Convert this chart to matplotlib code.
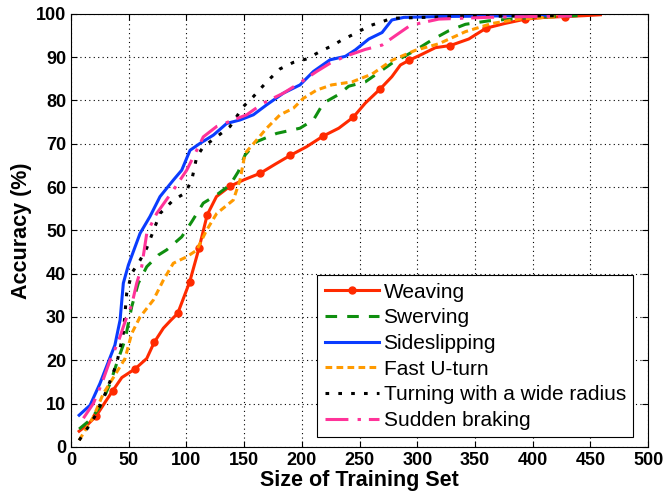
import matplotlib
matplotlib.use("Agg")
import matplotlib.pyplot as plt

plt.rcParams['font.family'] = ['Liberation Sans', 'DejaVu Sans']

weaving_x = [7, 15, 22, 30, 36, 44, 55.5, 65.6, 72, 80, 86.7, 92.4, 102.8, 111, 118, 126, 137.8, 150, 164, 177, 189.8, 204, 218.6, 232, 244.4, 255, 268, 278, 285.4, 293, 302.7, 315.7, 328.7, 344.6, 359.6, 376, 393.7, 410, 428.3, 445, 458.7]
weaving_y = [3.6, 5.3, 7.2, 10.5, 12.9, 16.0, 18.0, 20.4, 24.1, 27.4, 29.3, 30.8, 38.1, 46.0, 53.6, 57.8, 60.2, 61.7, 63.2, 65.3, 67.3, 69.3, 71.8, 73.6, 76.1, 79.4, 82.7, 85.5, 88.2, 89.3, 90.5, 92.2, 92.7, 94.2, 96.7, 97.8, 98.8, 99.2, 99.4, 99.6, 99.8]
weaving_markers = [2, 4, 6, 8, 11, 12, 13, 14, 16, 18, 20, 22, 24, 26, 29, 32, 34, 36, 38]

swerving_x = [7, 16.5, 25, 33.8, 39.6, 46.8, 52.6, 58.3, 65.6, 75.7, 82.9, 95.9, 104.6, 114.6, 126.2, 137.8, 145, 150.8, 160.9, 178.2, 198.4, 210, 218.7, 232, 240.6, 255, 278, 298.4, 312.8, 327.2, 341.7, 361.9, 400, 440]
swerving_y = [4.1, 6.2, 9.2, 14.6, 19.3, 24.7, 32.4, 37.8, 41.6, 44.3, 45.5, 48.5, 52.0, 56.3, 58.2, 60.5, 63.6, 67.4, 70.5, 72.4, 73.6, 75.5, 79.4, 81.4, 83.3, 84.3, 88.6, 91.6, 94.0, 96.1, 97.6, 98.4, 99.2, 99.6]

sideslip_x = [7, 16.5, 25, 32.3, 38, 42.5, 45.3, 49.7, 55.5, 59.8, 68.4, 77.1, 88.6, 95.9, 103.1, 111.8, 123.3, 134.9, 146.4, 158, 169.5, 184, 198.4, 210, 224.4, 237.7, 246.4, 258, 269.5, 278, 288.3, 320, 360, 411]
sideslip_y = [7.3, 9.6, 14.6, 19.6, 23.5, 29.3, 37.8, 42.0, 46.2, 49.3, 53.2, 57.8, 61.6, 63.9, 68.5, 70.1, 72.0, 74.7, 75.5, 76.7, 79.0, 81.7, 83.6, 86.7, 89.4, 90.2, 91.7, 94.2, 95.7, 98.6, 99.2, 99.4, 99.5, 99.7]

uturn_x = [7, 19.3, 28, 38.1, 46.8, 52.6, 59.8, 71.3, 80, 88.6, 100.3, 108.8, 117.6, 126.2, 140.6, 146.4, 150.8, 160.9, 169.5, 181.1, 192.6, 201.3, 212.8, 225.8, 243.5, 260.8, 278.2, 298.4, 318.6, 341.7, 364.8, 388, 428]
uturn_y = [1.5, 6.9, 12.3, 16.6, 20.4, 26.2, 30.0, 33.9, 38.5, 42.4, 43.9, 45.4, 50.1, 53.9, 57.0, 61.6, 67.8, 70.9, 73.6, 76.7, 78.2, 80.5, 82.4, 83.6, 84.3, 86.1, 89.3, 91.6, 93.1, 95.9, 97.8, 98.8, 99.5]

turning_x = [7, 15, 22.2, 30.9, 39.6, 45.3, 48.2, 52.6, 59.8, 65.6, 77.1, 88.6, 98.8, 104.6, 108.9, 114.6, 126.2, 137.8, 149.3, 158, 169.5, 181.1, 192.6, 204.2, 215.7, 227.3, 234.8, 246.4, 258, 269.5, 278, 320, 380, 434]
turning_y = [1.5, 4.6, 7.7, 13.1, 19.3, 26.2, 35.4, 40.1, 43.1, 45.9, 53.9, 57.0, 58.6, 61.6, 67.0, 69.3, 71.6, 74.0, 78.6, 80.9, 84.3, 87.3, 88.8, 89.6, 91.3, 92.8, 94.0, 95.5, 97.2, 98.2, 99.0, 99.3, 99.5, 99.6]

braking_x = [10.7, 19.3, 26.6, 33.8, 41, 46.8, 52.6, 56.9, 61.2, 65.6, 74.2, 88.6, 100.2, 108.9, 114.6, 126.2, 140.6, 152.2, 166.6, 184, 198.4, 212.8, 224.4, 237.7, 255, 269.5, 278, 283.9, 292.6, 301.3, 318.6, 360, 400, 434]
braking_y = [6.6, 10.0, 14.6, 20.0, 24.3, 28.9, 32.8, 37.8, 41.6, 49.3, 53.9, 59.3, 63.9, 68.5, 71.6, 74.0, 75.5, 76.7, 79.4, 81.7, 84.1, 86.7, 88.6, 90.2, 91.8, 92.8, 94.4, 95.5, 97.1, 97.8, 98.8, 99.2, 99.4, 99.5]

labels = ["Weaving", "Swerving", "Sideslipping", "Fast U-turn",
          "Turning with a wide radius", "Sudden braking"]
x_ticks = list(range(0, 501, 50))
y_ticks = list(range(0, 101, 10))

fig = plt.figure(figsize=(6.64, 4.97), dpi=100)
ax = fig.add_axes([0.107, 0.101, 0.869, 0.871])

lw = 2.2
ax.plot(weaving_x, weaving_y, color='#ff2a00', lw=lw, marker='o', markersize=5,
        markevery=weaving_markers, label=labels[0])
ax.plot(swerving_x, swerving_y, color='#0f8f0f', lw=lw, dashes=(3.8, 3.3), label=labels[1])
ax.plot(sideslip_x, sideslip_y, color='#0a3cff', lw=lw, label=labels[2])
ax.plot(uturn_x, uturn_y, color='#ff9a00', lw=lw, dashes=(2.2, 1.4), label=labels[3])
ax.plot(turning_x, turning_y, color='black', lw=lw, dashes=(1.2, 3.0), label=labels[4])
ax.plot(braking_x, braking_y, color='#ff3399', lw=lw, dashes=(7.5, 3, 1.1, 2.6), label=labels[5])

ax.set_xlim(0, 500)
ax.set_ylim(0, 100)
ax.set_xticks(x_ticks)
ax.set_yticks(y_ticks)
ax.grid(True, color='black', linestyle=(0, (1, 3)), linewidth=0.8)
ax.tick_params(direction='in', labelsize=13, length=4, top=True, right=True)
for lab in ax.get_xticklabels() + ax.get_yticklabels():
    lab.set_fontweight('bold')
for sp in ax.spines.values():
    sp.set_linewidth(0.8)

ax.set_xlabel("Size of Training Set", fontsize=15.5, fontweight='bold', labelpad=1)
ax.set_ylabel("Accuracy (%)", fontsize=15.5, fontweight='bold', labelpad=3)

leg = ax.legend(loc='lower right', bbox_to_anchor=(0.974, 0.022), borderaxespad=0,
                fontsize=15, handlelength=2.6, handletextpad=0.22, labelspacing=0.32,
                borderpad=0.35, fancybox=False, framealpha=1, edgecolor='black')
leg.get_frame().set_linewidth(0.8)

fig.savefig("out.png", dpi=100)
